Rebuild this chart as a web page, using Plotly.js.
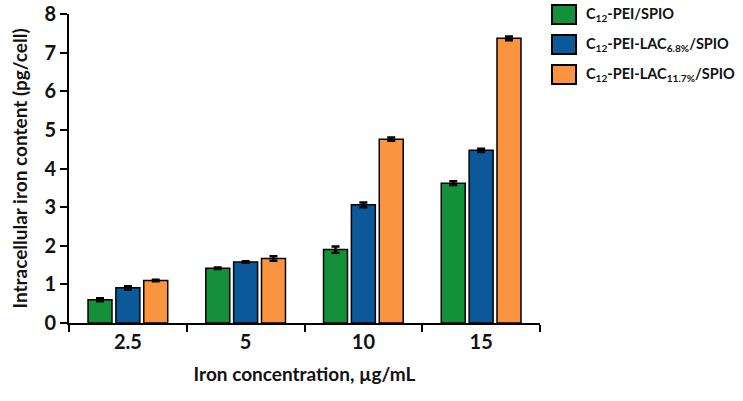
<!DOCTYPE html>
<html>
<head>
<meta charset="utf-8">
<script src="https://cdn.plot.ly/plotly-3.0.1.min.js"></script>
<style>body{margin:0;background:#fff}#chart{width:743px;height:401px}</style>
</head>
<body>
<div id="chart"></div>
<script>
var concentrations = ['2.5', '5', '10', '15'];
var seriesNames = ['C<sub>12</sub>-PEI/SPIO', 'C<sub>12</sub>-PEI-LAC<sub>6.8%</sub>/SPIO', 'C<sub>12</sub>-PEI-LAC<sub>11.7%</sub>/SPIO'];
var seriesColors = ['#148f3a', '#0b5998', '#fb9440'];
var peiVals = [0.60, 1.42, 1.90, 3.62];
var peiErr = [0.04, 0.02, 0.08, 0.05];
var lac68Vals = [0.91, 1.58, 3.06, 4.47];
var lac68Err = [0.04, 0.02, 0.06, 0.04];
var lac117Vals = [1.10, 1.67, 4.76, 7.37];
var lac117Err = [0.02, 0.06, 0.04, 0.05];

function mkTrace(i, vals, errs) {
  return {
    type: 'bar',
    x: concentrations,
    y: vals,
    name: seriesNames[i],
    marker: {color: seriesColors[i], line: {color: '#000', width: 1.5}},
    error_y: {type: 'data', array: errs, visible: true, color: '#000', thickness: 2.5, width: 4}
  };
}

var data = [
  mkTrace(0, peiVals, peiErr),
  mkTrace(1, lac68Vals, lac68Err),
  mkTrace(2, lac117Vals, lac117Err)
];

// hand-drawn legend: big square swatches like the original
var legShapes = [], legNotes = [];
var plotW = 743 - 69 - 203, plotH = 401 - 14 - 78;
for (var i = 0; i < 3; i++) {
  var yTop = 5 + i * 30, yBot = yTop + 19;
  legShapes.push({
    type: 'rect', xref: 'paper', yref: 'paper',
    x0: (552 - 69) / plotW, x1: (576 - 69) / plotW,
    y0: (323 - yBot) / plotH, y1: (323 - yTop) / plotH,
    fillcolor: seriesColors[i], line: {color: '#000', width: 2}
  });
  legNotes.push({
    xref: 'paper', yref: 'paper', x: (584 - 69) / plotW, y: (323 - (yTop + 9.5)) / plotH,
    xanchor: 'left', yanchor: 'middle', showarrow: false, text: seriesNames[i],
    font: {size: 14.5, weight: 'bold', color: '#111'}
  });
}

var layout = {
  width: 743, height: 401,
  margin: {l: 69, r: 203, t: 14, b: 78},
  paper_bgcolor: '#fff', plot_bgcolor: '#fff',
  font: {family: 'Lato, "Open Sans", sans-serif', color: '#111', size: 18},
  barmode: 'group', bargap: 0.29, bargroupgap: 0.14,
  showlegend: false,
  shapes: legShapes,
  annotations: legNotes,
  xaxis: {
    type: 'category',
    showline: true, linecolor: '#000', linewidth: 2,
    ticks: 'outside', tickson: 'boundaries', ticklen: 7, tickwidth: 2, tickcolor: '#000',
    tickfont: {size: 20, weight: 'bold'},
    title: {text: 'Iron concentration, µg/mL', font: {size: 19, weight: 'bold'}, standoff: 16}
  },
  yaxis: {
    range: [0, 8], dtick: 1, showgrid: false, zeroline: false,
    showline: true, linecolor: '#000', linewidth: 2,
    ticks: 'outside', ticklen: 7, tickwidth: 2, tickcolor: '#000',
    tickfont: {size: 20, weight: 'bold'},
    title: {text: 'Intracellular iron content (pg/cell)', font: {size: 19, weight: 'bold'}, standoff: 12}
  }
};

Plotly.newPlot('chart', data, layout, {displayModeBar: false});
</script>
</body>
</html>
